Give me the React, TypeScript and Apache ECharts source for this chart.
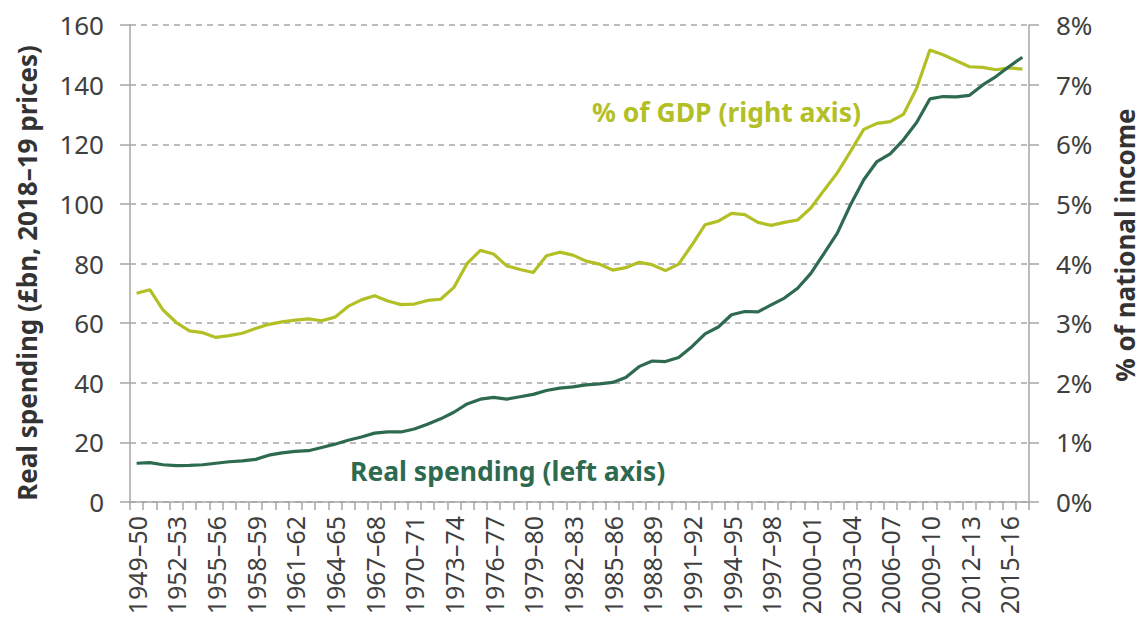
import React, { useEffect, useRef } from "react";
import * as echarts from "echarts";

const categories: string[] = [
  "1949–50", "1950–51", "1951–52", "1952–53", "1953–54", "1954–55", "1955–56", "1956–57",
  "1957–58", "1958–59", "1959–60", "1960–61", "1961–62", "1962–63", "1963–64", "1964–65",
  "1965–66", "1966–67", "1967–68", "1968–69", "1969–70", "1970–71", "1971–72", "1972–73",
  "1973–74", "1974–75", "1975–76", "1976–77", "1977–78", "1978–79", "1979–80", "1980–81",
  "1981–82", "1982–83", "1983–84", "1984–85", "1985–86", "1986–87", "1987–88", "1988–89",
  "1989–90", "1990–91", "1991–92", "1992–93", "1993–94", "1994–95", "1995–96", "1996–97",
  "1997–98", "1998–99", "1999–00", "2000–01", "2001–02", "2002–03", "2003–04", "2004–05",
  "2005–06", "2006–07", "2007–08", "2008–09", "2009–10", "2010–11", "2011–12", "2012–13",
  "2013–14", "2014–15", "2015–16", "2016–17",
];

// Real spending, £bn 2018–19 prices (left axis)
const realSpending: number[] = [
  13.0, 13.2, 12.5, 12.2, 12.3, 12.5, 13.0, 13.5, 13.8, 14.3,
  15.7, 16.5, 17.0, 17.2, 18.3, 19.4, 20.7, 21.8, 23.1, 23.5,
  23.5, 24.5, 26.1, 27.9, 30.1, 32.9, 34.5, 35.1, 34.5, 35.3,
  36.1, 37.4, 38.2, 38.6, 39.3, 39.6, 40.1, 41.8, 45.4, 47.3,
  47.1, 48.5, 52.1, 56.4, 58.7, 62.8, 63.9, 63.8, 66.1, 68.4,
  71.7, 76.7, 83.4, 90.2, 99.7, 108.1, 114.2, 116.8, 121.5, 127.3,
  135.2, 136.0, 135.9, 136.4, 139.9, 142.7, 146.1, 149.2,
];

// % of GDP (right axis)
const shareOfGdp: number[] = [
  3.50, 3.56, 3.22, 3.01, 2.87, 2.84, 2.76, 2.79, 2.83, 2.91,
  2.98, 3.02, 3.05, 3.07, 3.04, 3.10, 3.28, 3.39, 3.46, 3.37,
  3.31, 3.32, 3.38, 3.40, 3.60, 4.00, 4.22, 4.16, 3.96, 3.90,
  3.85, 4.13, 4.19, 4.14, 4.04, 3.99, 3.89, 3.93, 4.02, 3.98,
  3.88, 3.99, 4.31, 4.65, 4.71, 4.84, 4.82, 4.69, 4.64, 4.69,
  4.73, 4.93, 5.23, 5.52, 5.88, 6.25, 6.35, 6.38, 6.50, 6.94,
  7.58, 7.50, 7.40, 7.30, 7.29, 7.25, 7.28, 7.26,
];

const DARK = "#2d6a4f";
const LIGHT = "#b2c026";
const GRAY = "#a6a6a6";
const TEXT = "#404040";
const FONT = "'Noto Sans', 'Open Sans', sans-serif";

export default function App() {
  const ref = useRef<HTMLDivElement>(null);

  useEffect(() => {
    document.body.style.margin = "0";
    if (!ref.current) return;
    const chart = echarts.init(ref.current, null, { renderer: "svg" });
    chart.setOption({
      animation: false,
      backgroundColor: "#ffffff",
      textStyle: { fontFamily: FONT },
      grid: { left: 130, right: 113, top: 25, bottom: 119, containLabel: false },
      xAxis: {
        type: "category",
        data: categories,
        boundaryGap: true,
        axisLine: { show: true, lineStyle: { color: GRAY, width: 1.5 } },
        axisTick: { show: true, interval: 0, length: 8, lineStyle: { color: GRAY, width: 1.5 } },
        axisLabel: {
          interval: 2,
          rotate: 90,
          margin: 14,
          color: TEXT,
          fontSize: 25,
          fontFamily: FONT,
        },
        splitLine: { show: false },
      },
      yAxis: [
        {
          type: "value",
          min: 0,
          max: 160,
          interval: 20,
          axisLine: { show: true, lineStyle: { color: GRAY, width: 1.5 } },
          axisTick: { show: true, length: 10, lineStyle: { color: GRAY, width: 1.5 } },
          axisLabel: { color: TEXT, fontSize: 26, margin: 26, fontFamily: FONT },
          splitLine: { show: true, lineStyle: { color: GRAY, type: [6, 5], width: 1.5 } },
        },
        {
          type: "value",
          min: 0,
          max: 8,
          interval: 1,
          position: "right",
          axisLine: { show: true, lineStyle: { color: GRAY, width: 1.5 } },
          axisTick: { show: true, length: 10, lineStyle: { color: GRAY, width: 1.5 } },
          axisLabel: { color: TEXT, fontSize: 26, margin: 27, formatter: "{value}%", fontFamily: FONT },
          splitLine: { show: false },
        },
      ],
      series: [
        {
          name: "% of GDP (right axis)",
          type: "line",
          yAxisIndex: 1,
          data: shareOfGdp,
          showSymbol: false,
          symbol: "none",
          lineStyle: { color: LIGHT, width: 3.2 },
          itemStyle: { color: LIGHT },
        },
        {
          name: "Real spending (left axis)",
          type: "line",
          yAxisIndex: 0,
          data: realSpending,
          showSymbol: false,
          symbol: "none",
          lineStyle: { color: DARK, width: 3.2 },
          itemStyle: { color: DARK },
        },
      ],
      graphic: [
        {
          type: "text",
          x: 27,
          y: 273,
          rotation: Math.PI / 2,
          style: {
            text: "Real spending (£bn, 2018–19 prices)",
            fill: "#333333",
            font: `bold 26px ${FONT}`,
            textAlign: "center",
            textVerticalAlign: "middle",
          },
        },
        {
          type: "text",
          x: 1125,
          y: 245,
          rotation: Math.PI / 2,
          style: {
            text: "% of national income",
            fill: "#333333",
            font: `bold 26px ${FONT}`,
            textAlign: "center",
            textVerticalAlign: "middle",
          },
        },
        {
          type: "text",
          x: 592,
          y: 112,
          style: {
            text: "% of GDP (right axis)",
            fill: LIGHT,
            font: `bold 26.5px ${FONT}`,
            textAlign: "left",
            textVerticalAlign: "middle",
          },
        },
        {
          type: "text",
          x: 350,
          y: 471,
          style: {
            text: "Real spending (left axis)",
            fill: DARK,
            font: `bold 26.5px ${FONT}`,
            textAlign: "left",
            textVerticalAlign: "middle",
          },
        },
      ],
    });
    return () => chart.dispose();
  }, []);

  return <div ref={ref} style={{ width: 1142, height: 621 }} />;
}
